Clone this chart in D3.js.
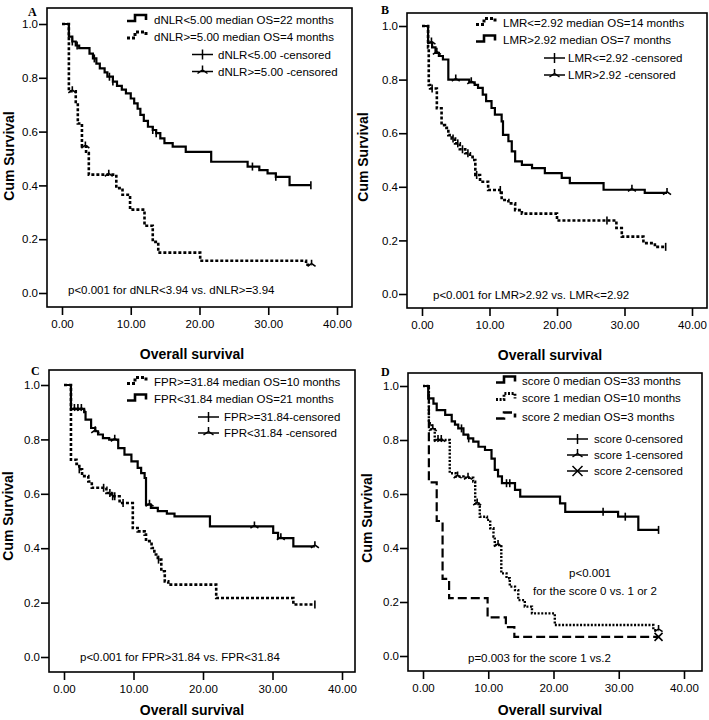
<!DOCTYPE html>
<html><head><meta charset="utf-8">
<script src="https://cdn.jsdelivr.net/npm/d3@7"></script>
<style>body{margin:0;background:#fff} text{font-family:"Liberation Sans",Arial,sans-serif;fill:#000}</style>
</head><body><svg id="c" width="709" height="720"></svg>
<script>
// ---------- DATA ----------
const xTicks = [0, 10, 20, 30, 40];
const yTicks = [0, 0.2, 0.4, 0.6, 0.8, 1.0];
const panelLetters = ["A", "B", "C", "D"];
const yTitle = "Cum Survival";
const xTitle = "Overall survival";

// Panel A
const aLowT = [0,1.0,1.5,2.0,2.5,4.0,4.5,5.0,5.5,6.2,6.6,7.4,8.0,8.7,9.3,10.0,10.5,11.0,11.4,11.9,12.5,13.2,13.7,14.3,14.9,16.1,18.0,21.7,27.0,28.7,29.9,31.1,33.1];
const aLowS = [1,0.953,0.935,0.92,0.91,0.89,0.872,0.853,0.835,0.82,0.804,0.786,0.77,0.756,0.742,0.723,0.705,0.685,0.662,0.64,0.618,0.606,0.594,0.575,0.557,0.544,0.525,0.488,0.47,0.457,0.445,0.432,0.401];
const aLowCens = [1.5,2.2,4.7,6.9,7.4,13.2,13.7,27.7,31.1,36.2];
const aLowEnd = 36.2;
const aHighT = [0,1.0,2.0,2.3,2.9,3.5,3.9,7.9,8.8,9.9,12.0,13.2,14.0,20.1,35.5];
const aHighS = [1,0.75,0.71,0.63,0.545,0.52,0.44,0.39,0.365,0.31,0.25,0.19,0.15,0.12,0.105];
const aHighCens = [1.5,3.4,6.8,36.3];
const aHighEnd = 36.3;
const aLegend = ["dNLR<5.00 median OS=22 months","dNLR>=5.00 median OS=4 months","dNLR<5.00 -censored","dNLR>=5.00 -censored"];
const aNotes = ["p<0.001 for dNLR<3.94 vs. dNLR>=3.94"];

// Panel B
const bLowT = [0,0.9,1.0,1.2,2.2,2.9,3.4,3.9,4.4,4.9,5.6,6.4,7.1,7.5,7.9,8.6,9.8,11.8,12.8,13.8,14.8,20.0,28.8,29.6,32.8,34.5];
const bLowS = [1,0.92,0.78,0.767,0.693,0.63,0.62,0.593,0.58,0.562,0.54,0.525,0.512,0.50,0.444,0.419,0.388,0.351,0.338,0.313,0.30,0.274,0.246,0.214,0.19,0.176];
const bLowCens = [1.5,4.6,5.3,6.0,6.8,8.1,11.6,27.4,36.1];
const bLowEnd = 36.1;
const bHighT = [0,0.9,1.5,2.0,2.5,3.1,3.9,7.0,7.8,8.3,9.0,9.5,10.3,10.8,11.8,12.0,12.8,13.3,13.8,14.8,16.3,18.2,20.7,21.9,26.9,33.0];
const bHighS = [1,0.938,0.92,0.90,0.888,0.875,0.80,0.79,0.78,0.769,0.744,0.72,0.694,0.669,0.644,0.594,0.57,0.532,0.495,0.482,0.47,0.451,0.433,0.414,0.389,0.377];
const bHighCens = [1.4,2.2,5.0,7.3,31.1,36.3];
const bHighEnd = 36.3;
const bLegend = ["LMR<=2.92 median OS=14 months","LMR>2.92 median OS=7 months","LMR<=2.92 -censored","LMR>2.92 -censored"];
const bNotes = ["p<0.001 for LMR>2.92 vs. LMR<=2.92"];

// Panel C
const cHighT = [0,1.0,1.8,2.2,2.6,3.5,4.0,6.1,6.8,8.0,9.9,10.6,11.6,11.8,12.6,13.0,13.5,14.0,14.5,15.0,21.9,33.0];
const cHighS = [1,0.725,0.71,0.69,0.665,0.645,0.622,0.603,0.591,0.566,0.474,0.462,0.45,0.426,0.401,0.377,0.358,0.315,0.278,0.266,0.217,0.193];
const cHighCens = [2.2,5.7,6.6,7.0,7.3,8.5,13.6,36.1];
const cHighEnd = 36.1;
const cLowT = [0,1.0,2.9,3.1,3.9,4.5,4.9,5.6,6.5,7.8,8.7,9.7,10.6,11.1,11.6,11.8,12.5,13.5,14.8,15.9,21.0,30.1,30.8,33.0];
const cLowS = [1,0.912,0.90,0.873,0.842,0.83,0.818,0.805,0.799,0.768,0.744,0.719,0.695,0.676,0.658,0.56,0.548,0.536,0.527,0.517,0.48,0.456,0.437,0.407];
const cLowCens = [1.5,2.0,2.5,4.5,7.3,12.3,27.4,31.2,36.1];
const cLowEnd = 36.1;
const cLegend = ["FPR>=31.84 median OS=10 months","FPR<31.84 median OS=21 months","FPR>=31.84-censored","FPR<31.84 -censored"];
const cNotes = ["p<0.001 for FPR>31.84 vs. FPR<31.84"];

// Panel D
const d0T = [0,0.8,1.6,2.1,3.4,4.4,4.9,5.4,6.2,6.9,7.7,8.5,9.5,10.5,11.0,11.5,12.1,14.1,14.9,21.0,21.8,29.9,33.0];
const d0S = [1,0.954,0.935,0.911,0.893,0.869,0.857,0.843,0.82,0.806,0.794,0.775,0.763,0.731,0.689,0.665,0.64,0.615,0.59,0.565,0.534,0.516,0.467];
const d0Cens = [5.9,7.0,12.8,13.3,27.6,31.0,36.1];
const d0End = 36.1;
const d1T = [0,0.9,1.3,1.8,4.1,5.0,6.2,7.7,8.0,8.5,8.7,9.8,10.3,10.8,11.0,12.0,12.8,13.3,14.1,14.6,15.6,16.7,20.2,35.3];
const d1S = [1,0.862,0.84,0.80,0.677,0.665,0.66,0.646,0.565,0.553,0.516,0.504,0.473,0.442,0.411,0.306,0.288,0.257,0.244,0.207,0.183,0.158,0.115,0.096];
const d1Cens = [1.5,2.3,2.8,5.3,6.9,8.3,11.5,36.1];
const d1End = 36.1;
const d2T = [0,0.9,2.1,3.0,4.0,9.9,12.7,14.0];
const d2S = [1,0.643,0.5,0.286,0.214,0.143,0.107,0.071];
const d2Cens = [36.1];
const d2End = 36.1;
const dLegend = ["score 0 median OS=33 months","score 1 median OS=10 months","score 2 median OS=3 months","score 0-censored","score 1-censored","score 2-censored"];
const dNotes = ["p<0.001","for the score 0 vs. 1 or 2","p=0.003 for the score 1 vs.2"];

// ---------- LAYOUT ----------
const styles = {
  solid: {w: 2.2, dash: null},
  dash:  {w: 2.6, dash: "3,2"},
  dot:   {w: 2.4, dash: "2,1.6"},
  long:  {w: 2.2, dash: "9,4"}
};
const panels = [
  {letter: panelLetters[0], box:[47,8,352,307], x0:62, x40:337, y0:293, y1:24, lx:28, ly:16, yt:[9,156], xt:[192,354],
   curves:[
     {T:aLowT,S:aLowS,cens:aLowCens,end:aLowEnd,style:"solid",mark:"plus"},
     {T:aHighT,S:aHighS,cens:aHighCens,end:aHighEnd,style:"dash",mark:"tri"}],
   legend:[
     {kind:"line",style:"solid",ix:127,tx:154,cy:19.5,text:aLegend[0]},
     {kind:"line",style:"dash",ix:127,tx:154,cy:36.5,text:aLegend[1]},
     {kind:"cens",mark:"plus",ix:192,tx:218,cy:54.5,text:aLegend[2]},
     {kind:"cens",mark:"tri",ix:192,tx:218,cy:71.5,text:aLegend[3]}],
   notes:[{text:aNotes[0],x:68,y:290,a:"start"}]},
  {letter: panelLetters[1], box:[407,13,707,308], x0:422, x40:692, y0:294, y1:26, lx:381, ly:14, yt:[363,157], xt:[550,355],
   curves:[
     {T:bHighT,S:bHighS,cens:bHighCens,end:bHighEnd,style:"solid",mark:"tri"},
     {T:bLowT,S:bLowS,cens:bLowCens,end:bLowEnd,style:"dash",mark:"plus"}],
   legend:[
     {kind:"line",style:"dash",ix:476,tx:503,cy:23,text:bLegend[0]},
     {kind:"line",style:"solid",ix:476,tx:503,cy:40,text:bLegend[1]},
     {kind:"cens",mark:"plus",ix:544,tx:568,cy:58,text:bLegend[2]},
     {kind:"cens",mark:"tri",ix:544,tx:568,cy:75,text:bLegend[3]}],
   notes:[{text:bNotes[0],x:433,y:295,a:"start"}]},
  {letter: panelLetters[2], box:[49,370,355,672], x0:64, x40:342, y0:657, y1:385, lx:31, ly:375, yt:[8,516], xt:[192,710],
   curves:[
     {T:cLowT,S:cLowS,cens:cLowCens,end:cLowEnd,style:"solid",mark:"tri"},
     {T:cHighT,S:cHighS,cens:cHighCens,end:cHighEnd,style:"dash",mark:"plus"}],
   legend:[
     {kind:"line",style:"dash",ix:127,tx:154,cy:382,text:cLegend[0]},
     {kind:"line",style:"solid",ix:127,tx:154,cy:399,text:cLegend[1]},
     {kind:"cens",mark:"plus",ix:198,tx:224,cy:417,text:cLegend[2]},
     {kind:"cens",mark:"tri",ix:198,tx:224,cy:433,text:cLegend[3]}],
   notes:[{text:cNotes[0],x:80,y:657,a:"start"}]},
  {letter: panelLetters[3], box:[408,373,702,671], x0:423, x40:684, y0:656, y1:386, lx:381, ly:376, yt:[367,518], xt:[550,710],
   curves:[
     {T:d0T,S:d0S,cens:d0Cens,end:d0End,style:"solid",mark:"plus"},
     {T:d1T,S:d1S,cens:d1Cens,end:d1End,style:"dot",mark:"tri"},
     {T:d2T,S:d2S,cens:d2Cens,end:d2End,style:"long",mark:"x"}],
   legend:[
     {kind:"line",style:"solid",ix:496,tx:522,cy:381,text:dLegend[0]},
     {kind:"line",style:"dot",ix:496,tx:522,cy:398,text:dLegend[1]},
     {kind:"line",style:"long",ix:496,tx:522,cy:417,text:dLegend[2]},
     {kind:"cens",mark:"plus",ix:567,tx:594,cy:439,text:dLegend[3]},
     {kind:"cens",mark:"tri",ix:567,tx:594,cy:455,text:dLegend[4]},
     {kind:"cens",mark:"x",ix:567,tx:594,cy:471,text:dLegend[5]}],
   notes:[{text:dNotes[0],x:590,y:573,a:"middle"},{text:dNotes[1],x:595,y:591,a:"middle"},{text:dNotes[2],x:468,y:658,a:"start"}]}
];

const svg = d3.select("#c");
function stepVal(T, S, t) { let v = S[0]; for (let i = 0; i < T.length; i++) if (T[i] <= t) v = S[i]; return v; }
function markPath(m, cx, cy, r) {
  if (m === "plus") return `M${cx},${cy - r}V${cy + r}`;
  if (m === "tri") return `M${cx},${cy - r - 1}V${cy - r * 0.3}M${cx - r},${cy + r * 0.4}L${cx},${cy - r * 0.3}L${cx + r},${cy + r * 0.4}`;
  return `M${cx - r},${cy - r}L${cx + r},${cy + r}M${cx + r},${cy - r}L${cx - r},${cy + r}`;
}

panels.forEach(p => {
  const g = svg.append("g");
  const x = d3.scaleLinear().domain([0, 40]).range([p.x0, p.x40]);
  const y = d3.scaleLinear().domain([0, 1]).range([p.y0, p.y1]);
  const [bx0, by0, bx1, by1] = p.box;

  g.append("rect").attr("x", bx0).attr("y", by0).attr("width", bx1 - bx0).attr("height", by1 - by0)
    .attr("fill", "none").attr("stroke", "#000").attr("stroke-width", 1.6);

  const ya = g.append("g").attr("transform", `translate(${bx0},0)`)
    .call(d3.axisLeft(y).tickValues(yTicks).tickFormat(d3.format(".1f")).tickSize(8).tickPadding(1));
  ya.select(".domain").remove();
  const xa = g.append("g").attr("transform", `translate(0,${by1})`)
    .call(d3.axisBottom(x).tickValues(xTicks).tickFormat(d3.format(".2f")).tickSize(8).tickPadding(5));
  xa.select(".domain").remove();
  g.selectAll(".tick line").attr("stroke", "#000").attr("stroke-width", 1.6);
  g.selectAll(".tick text").attr("font-size", "11.5px").attr("font-family", "Liberation Sans, Arial, sans-serif").attr("fill", "#000");

  // curves
  const line = d3.line().x(d => x(d[0])).y(d => y(d[1])).curve(d3.curveStepAfter);
  p.curves.forEach(c => {
    const pts = c.T.map((t, i) => [t, c.S[i]]);
    pts.push([c.end, c.S[c.S.length - 1]]);
    const st = styles[c.style];
    g.append("path").attr("d", line(pts)).attr("fill", "none").attr("stroke", "#000")
      .attr("stroke-width", st.w).attr("stroke-dasharray", st.dash);
    c.cens.forEach(t => {
      g.append("path").attr("d", markPath(c.mark, x(t), y(stepVal(c.T, c.S, t)), 4))
        .attr("fill", "none").attr("stroke", "#000").attr("stroke-width", 1.6);
    });
  });

  // legend
  p.legend.forEach(L => {
    if (L.kind === "line") {
      const st = styles[L.style];
      g.append("path").attr("d", `M${L.ix},${L.cy + 1.5}H${L.ix + 8}V${L.cy - 4.5}H${L.ix + 19}V${L.cy + 0.5}`)
        .attr("fill", "none").attr("stroke", "#000").attr("stroke-width", st.w + 0.4).attr("stroke-dasharray", st.dash);
    } else {
      g.append("path").attr("d", `M${L.ix},${L.cy}H${L.ix + 21}`).attr("stroke", "#000").attr("stroke-width", 1.5);
      g.append("path").attr("d", markPath(L.mark, L.ix + 10.5, L.cy, 5)).attr("fill", "none").attr("stroke", "#000").attr("stroke-width", 1.5);
    }
    g.append("text").attr("x", L.tx).attr("y", L.cy).attr("dy", "0.36em").attr("font-size", "11.5px").text(L.text);
  });

  p.notes.forEach(n => {
    g.append("text").attr("x", n.x).attr("y", n.y).attr("dy", "0.36em").attr("text-anchor", n.a)
      .attr("font-size", "11.5px").text(n.text);
  });

  g.append("text").attr("x", p.lx).attr("y", p.ly)
    .style("font-family", "Liberation Serif, Times New Roman, serif")
    .attr("font-weight", "bold").attr("font-size", "12px").text(p.letter);

  g.append("text").attr("transform", `translate(${p.yt[0]},${p.yt[1]}) rotate(-90)`).attr("dy", "0.36em")
    .attr("text-anchor", "middle").attr("font-weight", "bold").attr("font-size", "14px").text(yTitle);
  g.append("text").attr("x", p.xt[0]).attr("y", p.xt[1]).attr("dy", "0.36em")
    .attr("text-anchor", "middle").attr("font-weight", "bold").attr("font-size", "14px").text(xTitle);
});
</script>
</body></html>
